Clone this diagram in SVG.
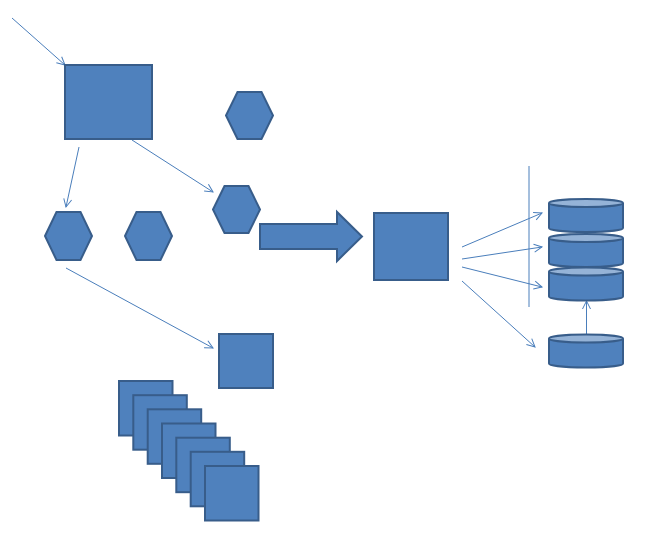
<svg xmlns="http://www.w3.org/2000/svg" width="658" height="538" viewBox="0 0 658 538">
<style>
.s{fill:#4F81BD;stroke:#385D8A;stroke-width:2;stroke-linejoin:miter}
.t{fill:#95B3D7;stroke:#385D8A;stroke-width:2}
.c{fill:none;stroke:#4A7EBB;stroke-width:1;marker-end:url(#a)}
.l{fill:none;stroke:#4A7EBB;stroke-width:1}
</style>
<defs>
<marker id="a" viewBox="0 0 10 10" refX="9" refY="5" markerWidth="10" markerHeight="10" markerUnits="userSpaceOnUse" orient="auto">
<path d="M1,1 L9,5 L1,9" fill="none" stroke="#4A7EBB" stroke-width="1"/>
</marker>
<g id="cyl">
<path class="s" d="M0,4 L0,29 A37,4 0 0 0 74,29 L74,4"/>
<ellipse class="t" cx="37" cy="4" rx="37" ry="4"/>
</g>
</defs>
<rect width="658" height="538" fill="#fff"/>
<g id="connectors">
<line class="c" x1="12" y1="18" x2="65" y2="65"/>
<line class="c" x1="79" y1="147" x2="66" y2="207"/>
<line class="c" x1="132" y1="140" x2="213" y2="192"/>
<line class="c" x1="66" y1="268" x2="213" y2="348"/>
<line class="l" x1="529" y1="166" x2="529" y2="307"/>
<line class="c" x1="462" y1="247" x2="542" y2="213"/>
<line class="c" x1="462" y1="259" x2="542" y2="247"/>
<line class="c" x1="462" y1="267" x2="542" y2="287"/>
<line class="c" x1="462" y1="281" x2="535" y2="347"/>
<line class="c" x1="586.5" y1="334" x2="586.5" y2="301"/>
</g>
<g id="square1"><rect class="s" x="65" y="65" width="87" height="74"/></g>
<g id="hexTop"><polygon class="s" points="226,115.5 237.5,92 261.5,92 273,115.5 261.5,139 237.5,139"/></g>
<g id="hex1"><polygon class="s" points="45,236 56.5,212 80.5,212 92,236 80.5,260 56.5,260"/></g>
<g id="hex2"><polygon class="s" points="125,236 136.5,212 160.5,212 172,236 160.5,260 136.5,260"/></g>
<g id="hex3"><polygon class="s" points="213,209.5 224.5,186 248.5,186 260,209.5 248.5,233 224.5,233"/></g>
<g id="blockArrow"><polygon class="s" points="260,224 337,224 337,212 362,236.5 337,261 337,249 260,249"/></g>
<g id="square2"><rect class="s" x="374" y="213" width="74" height="67"/></g>
<g id="square3"><rect class="s" x="219" y="334" width="54" height="54"/></g>
<g id="cyl1"><use href="#cyl" x="549" y="199"/></g>
<g id="cyl2"><use href="#cyl" x="549" y="234"/></g>
<g id="cyl3"><use href="#cyl" x="549" y="267.5"/></g>
<g id="cyl4"><use href="#cyl" x="549" y="334.5"/></g>
<g id="stack">
<rect class="s" x="119" y="381" width="53.5" height="54.5"/>
<rect class="s" x="133.3" y="395.2" width="53.5" height="54.5"/>
<rect class="s" x="147.7" y="409.3" width="53.5" height="54.5"/>
<rect class="s" x="162" y="423.5" width="53.5" height="54.5"/>
<rect class="s" x="176.3" y="437.7" width="53.5" height="54.5"/>
<rect class="s" x="190.7" y="451.8" width="53.5" height="54.5"/>
<rect class="s" x="205" y="466" width="53.5" height="54.5"/>
</g>
</svg>
